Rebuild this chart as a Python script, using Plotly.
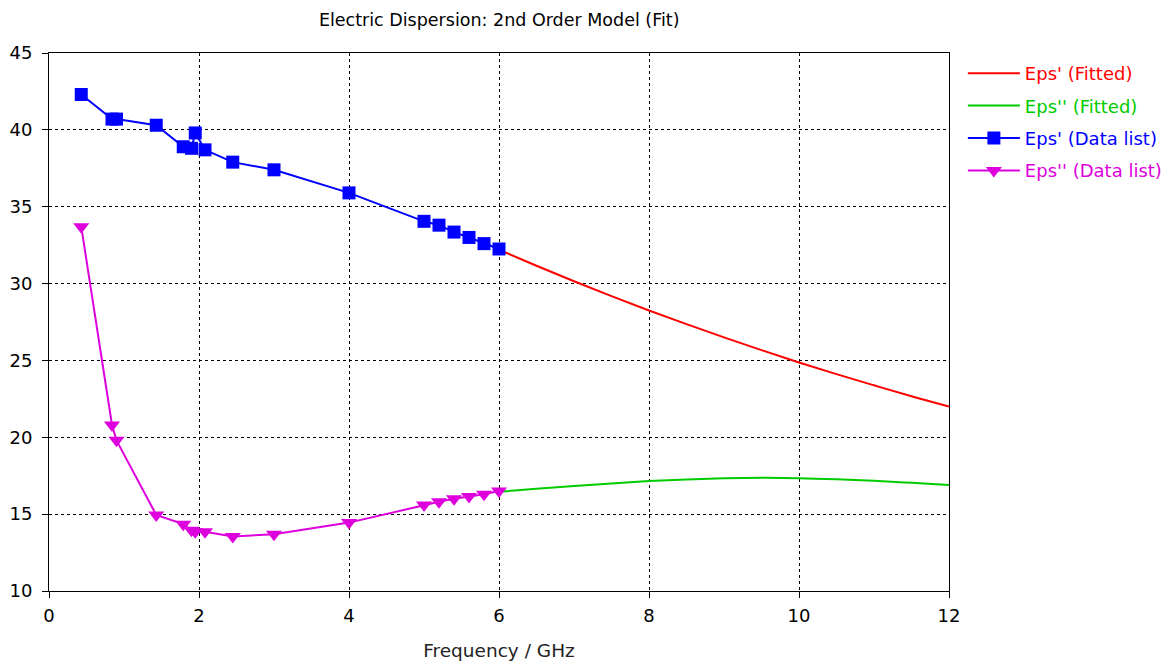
import plotly.graph_objects as go

# Measured data (frequency in GHz)
freq_data = [0.43, 0.84, 0.9, 1.43, 1.79, 1.9, 1.95, 2.08, 2.45, 3.0, 4.0, 5.0, 5.2, 5.4, 5.6, 5.8, 6.0]
eps1_data = [42.3, 40.7, 40.7, 40.3, 38.9, 38.8, 39.8, 38.7, 37.9, 37.4, 35.9, 34.05, 33.8, 33.35, 33.0, 32.6, 32.25]
eps2_data = [33.7, 20.8, 19.8, 14.95, 14.35, 13.95, 13.85, 13.85, 13.55, 13.7, 14.45, 15.6, 15.8, 16.0, 16.15, 16.3, 16.5]

# Fitted model curves
freq_fit = [6.0, 6.5, 7.0, 7.5, 8.0, 8.5, 9.0, 9.5, 10.0, 10.5, 11.0, 11.5, 12.0]
eps1_fit = [32.2, 31.16, 30.15, 29.18, 28.25, 27.36, 26.5, 25.67, 24.87, 24.11, 23.38, 22.67, 22.0]
eps2_fit = [16.45, 16.65, 16.83, 17.0, 17.15, 17.26, 17.33, 17.36, 17.34, 17.27, 17.17, 17.04, 16.9]

x_ticks = [0, 2, 4, 6, 8, 10, 12]
y_ticks = [10, 15, 20, 25, 30, 35, 40, 45]

FONT = "DejaVu Sans"

fig = go.Figure()
fig.add_trace(go.Scatter(
    x=freq_fit, y=eps1_fit, mode="lines", line=dict(color="#ff0000", width=2, shape="spline"),
    name="<span style='color:#ff0000'>Eps' (Fitted)</span>", legendgroup="a"))
fig.add_trace(go.Scatter(
    x=freq_fit, y=eps2_fit, mode="lines", line=dict(color="#00cc00", width=2, shape="spline"),
    name="<span style='color:#00cc00'>Eps'' (Fitted)</span>", legendgroup="b"))
fig.add_trace(go.Scatter(
    x=freq_data, y=eps1_data, mode="lines+markers", line=dict(color="#0000ff", width=2),
    marker=dict(symbol="square", size=13, color="#0000ff"),
    name="<span style='color:#0000ff'>Eps' (Data list)</span>", legendgroup="c"))
fig.add_trace(go.Scatter(
    x=freq_data, y=eps2_data, mode="lines+markers", line=dict(color="#dd00dd", width=2),
    marker=dict(symbol="triangle-down", size=14, color="#dd00dd"),
    name="<span style='color:#dd00dd'>Eps'' (Data list)</span>", legendgroup="d"))

axis_common = dict(
    showline=True, linecolor="black", linewidth=1, mirror=True,
    showgrid=True, gridcolor="black", gridwidth=1, griddash="3px,3px",
    ticks="outside", ticklen=6, tickcolor="black", tickwidth=1,
    tickfont=dict(family=FONT, size=18, color="black"), zeroline=False,
    automargin=False,
)

fig.update_layout(
    width=1165, height=661,
    margin=dict(l=49, r=216, t=53, b=70, autoexpand=False),
    paper_bgcolor="white", plot_bgcolor="white",
    title=dict(text="Electric Dispersion: 2nd Order Model (Fit)", x=0.4285, xanchor="center",
               y=0.97, yanchor="middle",
               font=dict(family=FONT, size=17.5, color="black")),
    xaxis=dict(range=[0, 12], tickvals=x_ticks, ticklabelstandoff=2,
               title=dict(text="Frequency / GHz", font=dict(family=FONT, size=18.5, color="#222"), standoff=24),
               **axis_common),
    yaxis=dict(range=[10, 45], tickvals=y_ticks, ticklabelstandoff=6, **axis_common),
    legend=dict(xref="container", yref="container", x=0.8265, xanchor="left", y=0.9168, yanchor="top",
                font=dict(family=FONT, size=18), tracegroupgap=6,
                bgcolor="rgba(0,0,0,0)", itemwidth=52),
    showlegend=True,
)

fig.write_html("out.html")
